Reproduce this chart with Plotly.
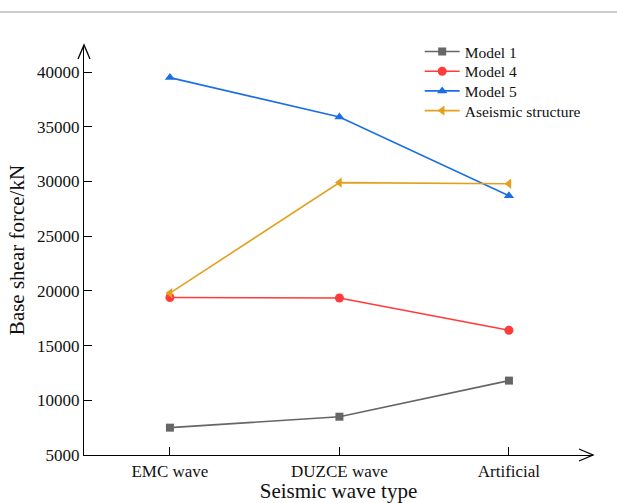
import plotly.graph_objects as go

# Seismic wave types and base shear force (kN) per model
wave_types = ["EMC wave", "DUZCE wave", "Artificial"]
model_1 = [7500, 8500, 11800]
model_4 = [19400, 19350, 16400]
model_5 = [39500, 35900, 28700]
aseismic = [19800, 29900, 29800]

y_ticks = [5000, 10000, 15000, 20000, 25000, 30000, 35000, 40000]
y_tick_text = [str(v) for v in y_ticks]

series = [
    ("Model 1", model_1, "#666666", "square", 8),
    ("Model 4", model_4, "#ff3b3b", "circle", 9),
    ("Model 5", model_5, "#1c6fe3", "triangle-up", 9),
    ("Aseismic structure", aseismic, "#e3a01e", "triangle-left", 9),
]

FONT = "Liberation Serif, Times New Roman, serif"
LEGEND_FONT = dict(family=FONT, size=15.5, color="#111111")

# one single-entry legend per series so the rows sit close together
legend_ids = ["legend", "legend2", "legend3", "legend4"]
legend_rows_y = [0.983, 0.935, 0.887, 0.839]

fig = go.Figure()
for (name, vals, color, symbol, size), lid in zip(series, legend_ids):
    fig.add_trace(go.Scatter(
        x=[0, 1, 2], y=vals, name=name, mode="lines+markers",
        line=dict(color=color, width=1.6),
        marker=dict(symbol=symbol, size=size, color=color),
        legend=lid,
    ))

layout_legends = {}
for lid, ly in zip(legend_ids, legend_rows_y):
    layout_legends[lid] = dict(
        x=0.6595, y=ly, xanchor="left", yanchor="middle",
        bgcolor="rgba(0,0,0,0)", font=LEGEND_FONT, itemwidth=35,
    )

fig.update_layout(
    width=617, height=503,
    margin=dict(l=84, r=24, t=45, b=48, autoexpand=False),
    paper_bgcolor="white", plot_bgcolor="white",
    font=dict(family=FONT, size=17, color="#111111"),
    showlegend=True,
    xaxis=dict(
        range=[-0.507, 2.496], tickmode="array", tickvals=[0, 1, 2],
        ticktext=wave_types, showgrid=False, zeroline=False,
        showline=True, linecolor="black", linewidth=1.3,
        ticks="inside", ticklen=8, tickcolor="black", tickwidth=1.3,
        title=dict(text="Seismic wave type", font=dict(family=FONT, size=21), standoff=4),
        tickfont=dict(family=FONT, size=17),
    ),
    yaxis=dict(
        range=[5000, 42480], tickmode="array", tickvals=y_ticks,
        ticktext=y_tick_text, showgrid=False, zeroline=False,
        showline=True, linecolor="black", linewidth=1.3,
        ticks="inside", ticklen=8, tickcolor="black", tickwidth=1.3,
        title=dict(text="Base shear force/kN", font=dict(family=FONT, size=21), standoff=6),
        tickfont=dict(family=FONT, size=17),
    ),
    **layout_legends,
)

# Open arrowheads at the ends of both axes
fig.add_shape(type="path", xref="paper", yref="paper",
              xsizemode="pixel", ysizemode="pixel", xanchor=0, yanchor=1,
              path="M -6 -14 L 0 0 L 6 -14", line=dict(color="black", width=1.3))
fig.add_shape(type="path", xref="paper", yref="paper",
              xsizemode="pixel", ysizemode="pixel", xanchor=1, yanchor=0,
              path="M -14 6 L 0 0 L -14 -6", line=dict(color="black", width=1.3))

# Thin rule across the top of the page
fig.add_shape(type="line", xref="paper", yref="paper",
              x0=-0.2, x1=1.1, y0=1.0805, y1=1.0805,
              line=dict(color="#bdbdbd", width=1.5))

fig.write_html("out.html")
